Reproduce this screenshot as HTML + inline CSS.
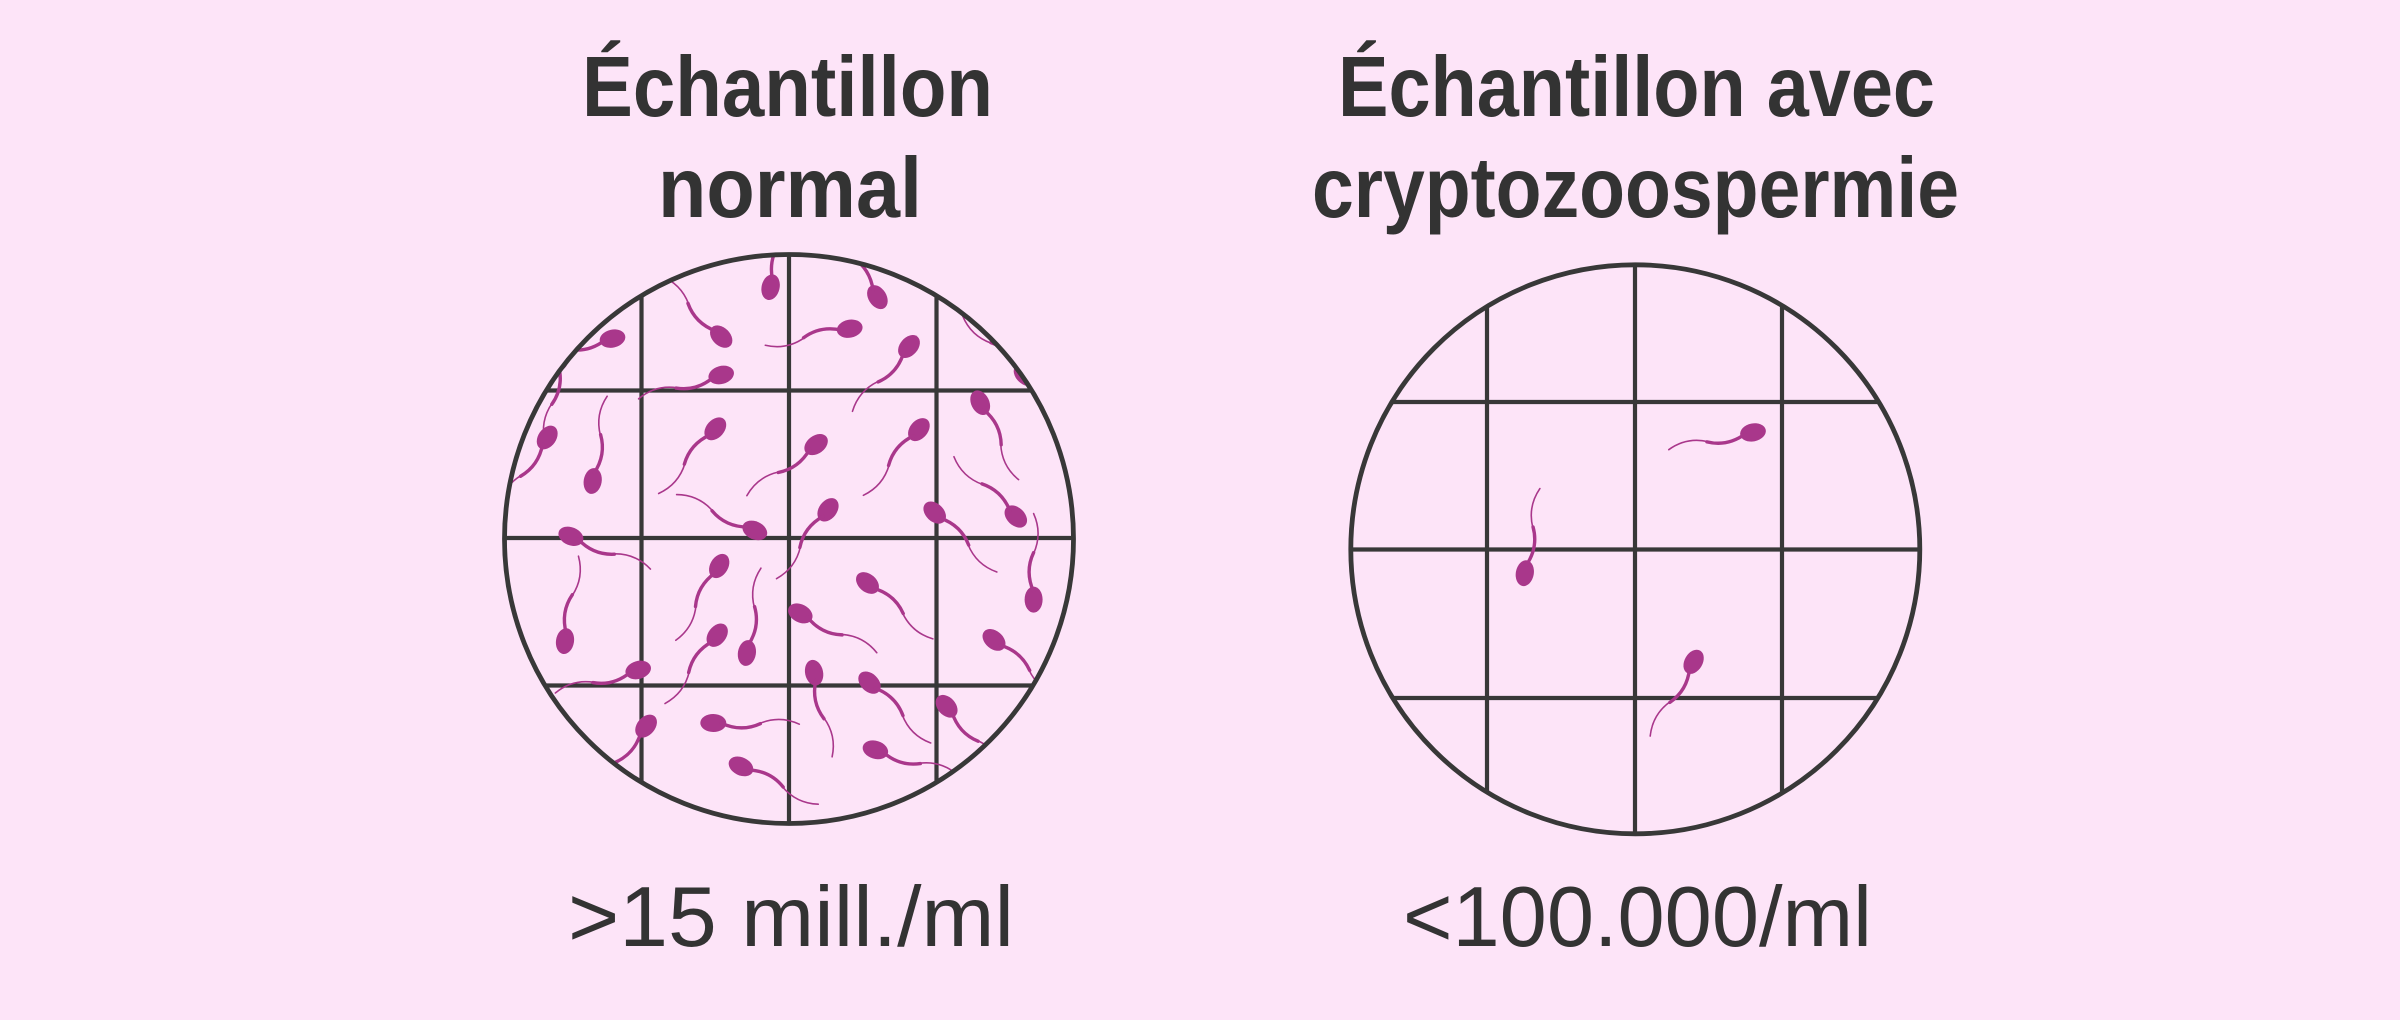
<!DOCTYPE html>
<html><head><meta charset="utf-8"><style>
html,body{margin:0;padding:0;background:#fde4f8;}
svg{display:block;}
</style></head><body>
<svg width="2400" height="1020" viewBox="0 0 2400 1020" xmlns="http://www.w3.org/2000/svg">
<defs>
<clipPath id="cl"><circle cx="789" cy="539" r="284"/></clipPath>
<clipPath id="cr"><circle cx="1635.3" cy="549.3" r="284"/></clipPath>
<g id="s">
<ellipse cx="0" cy="0" rx="13" ry="9" fill="#a9378b"/>
<path d="M8,0 Q28,-9 47,0" fill="none" stroke="#a9378b" stroke-width="3.4" stroke-linecap="round"/>
<path d="M46,0 Q66,9 86,0" fill="none" stroke="#a9378b" stroke-width="1.6" stroke-linecap="round"/>
</g>
<g id="t">
<ellipse cx="0" cy="0" rx="13" ry="9" fill="#a9378b"/>
<path d="M8,0 Q28,9 47,0" fill="none" stroke="#a9378b" stroke-width="3.4" stroke-linecap="round"/>
<path d="M46,0 Q66,-9 86,0" fill="none" stroke="#a9378b" stroke-width="1.6" stroke-linecap="round"/>
</g>
</defs>
<rect width="2400" height="1020" fill="#fde4f8"/>

<g font-family="Liberation Sans, Arial, sans-serif" fill="#333333">
<text x="582" y="116" font-size="85" font-weight="bold" textLength="411" lengthAdjust="spacingAndGlyphs">Échantillon</text>
<text x="658" y="217" font-size="85" font-weight="bold" textLength="264" lengthAdjust="spacingAndGlyphs">normal</text>
<text x="1338" y="116" font-size="85" font-weight="bold" textLength="597" lengthAdjust="spacingAndGlyphs">Échantillon avec</text>
<text x="1312" y="217" font-size="85" font-weight="bold" textLength="647" lengthAdjust="spacingAndGlyphs">cryptozoospermie</text>
<text x="568" y="946" font-size="85" textLength="446" lengthAdjust="spacingAndGlyphs">&gt;15 mill./ml</text>
<text x="1403" y="946" font-size="85" textLength="469" lengthAdjust="spacingAndGlyphs">&lt;100.000/ml</text>
</g>

<!-- LEFT CIRCLE -->
<g clip-path="url(#cl)">
<g stroke="#383838" stroke-width="4.2">
<line x1="641.5" y1="240" x2="641.5" y2="840"/>
<line x1="789" y1="240" x2="789" y2="840"/>
<line x1="936.5" y1="240" x2="936.5" y2="840"/>
<line x1="490" y1="390.5" x2="1090" y2="390.5"/>
<line x1="490" y1="538" x2="1090" y2="538"/>
<line x1="490" y1="685.5" x2="1090" y2="685.5"/>
</g>
<use href="#s" transform="translate(770.6,287.2) rotate(-76.8)"/>
<use href="#t" transform="translate(877.4,297.1) rotate(-122.2)"/>
<use href="#s" transform="translate(721.2,336.6) rotate(-135)"/>
<use href="#t" transform="translate(849.7,328.7) rotate(168.9)"/>
<use href="#s" transform="translate(612.5,338.6) rotate(167.4)"/>
<use href="#s" transform="translate(909,346.5) rotate(131.1)"/>
<use href="#t" transform="translate(1025,375) rotate(-136.5)"/>
<use href="#s" transform="translate(721.2,375) rotate(163.9)"/>
<use href="#s" transform="translate(560,358) rotate(100)"/>
<use href="#t" transform="translate(592.7,481) rotate(-80.3)"/>
<use href="#s" transform="translate(547.2,437.5) rotate(124.5)"/>
<use href="#t" transform="translate(715.3,428.8) rotate(131.2)"/>
<use href="#s" transform="translate(816.1,444.6) rotate(143.6)"/>
<use href="#t" transform="translate(918.9,429.6) rotate(130.2)"/>
<use href="#s" transform="translate(980.2,402.7) rotate(63.5)"/>
<use href="#t" transform="translate(1015.8,516.5) rotate(-136)"/>
<use href="#s" transform="translate(754.8,530.4) rotate(-155.4)"/>
<use href="#t" transform="translate(828,509.8) rotate(126.8)"/>
<use href="#s" transform="translate(934.7,512.6) rotate(43.7)"/>
<use href="#t" transform="translate(570.9,536.3) rotate(22.4)"/>
<use href="#s" transform="translate(1033.6,599.6) rotate(-90)"/>
<use href="#t" transform="translate(719.2,566) rotate(120.3)"/>
<use href="#s" transform="translate(565,641.1) rotate(-81)"/>
<use href="#t" transform="translate(746.9,653) rotate(-80.6)"/>
<use href="#s" transform="translate(867.5,583) rotate(40.5)"/>
<use href="#t" transform="translate(800.3,613.4) rotate(27.2)"/>
<use href="#s" transform="translate(994,639.9) rotate(40.6)"/>
<use href="#t" transform="translate(717.2,635.2) rotate(127.4)"/>
<use href="#s" transform="translate(638.2,670) rotate(164.5)"/>
<use href="#t" transform="translate(814.1,672.7) rotate(77.9)"/>
<use href="#s" transform="translate(869.5,682.6) rotate(44.6)"/>
<use href="#t" transform="translate(946.6,706.3) rotate(48)"/>
<use href="#s" transform="translate(646.1,726.1) rotate(130.1)"/>
<use href="#t" transform="translate(713.3,723) rotate(0.8)"/>
<use href="#s" transform="translate(741,766.4) rotate(26.1)"/>
<use href="#t" transform="translate(875.4,749.8) rotate(17)"/>
</g>
<circle cx="789" cy="539" r="284.5" fill="none" stroke="#383838" stroke-width="4.8"/>

<!-- RIGHT CIRCLE -->
<g clip-path="url(#cr)">
<g stroke="#383838" stroke-width="4.2">
<line x1="1487" y1="250" x2="1487" y2="850"/>
<line x1="1635" y1="250" x2="1635" y2="850"/>
<line x1="1782" y1="250" x2="1782" y2="850"/>
<line x1="1340" y1="402" x2="1930" y2="402"/>
<line x1="1340" y1="549.5" x2="1930" y2="549.5"/>
<line x1="1340" y1="698" x2="1930" y2="698"/>
</g>
<use href="#s" transform="translate(1753,432.4) rotate(168.4)"/>
<use href="#t" transform="translate(1524.8,573.2) rotate(-79.9)"/>
<use href="#s" transform="translate(1693.6,661.8) rotate(120.3)"/>
</g>
<circle cx="1635.3" cy="549.3" r="284.5" fill="none" stroke="#383838" stroke-width="4.8"/>
</svg>
</body></html>
